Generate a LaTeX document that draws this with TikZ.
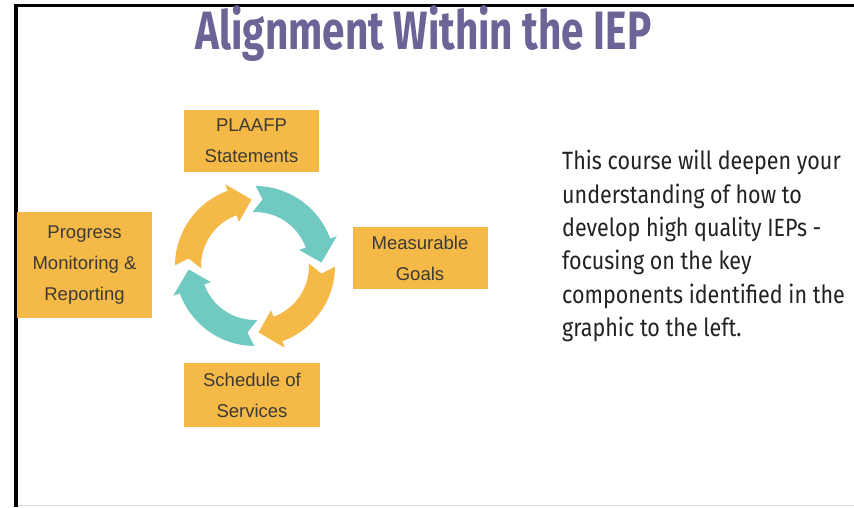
\documentclass[tikz,border=0pt]{standalone}
\usepackage{fontspec}
\setmainfont{Liberation Sans}
\newfontfamily\titlefont[FakeStretch=0.75]{Fira Sans}
\newfontfamily\notefont[FakeStretch=0.86]{Fira Sans}
\usepackage{xcolor}
\definecolor{boxorange}{HTML}{F4B947}
\definecolor{cycteal}{HTML}{70CAC2}
\definecolor{titlepurple}{HTML}{6C6496}
\definecolor{boxtext}{HTML}{3D3A35}
\definecolor{notetext}{HTML}{222226}

\tikzset{
  stage/.style={fill=boxorange,text=boxtext,font=\fontsize{18.5}{31}\selectfont,
    align=center,inner sep=0pt,minimum width=135pt,minimum height=62pt},
}

\begin{document}
\begin{tikzpicture}[x=1pt,y=1pt]
\useasboundingbox (0,0) rectangle (854,507);
\fill[white] (0,0) rectangle (854,507);
\draw[line width=3.5pt] (16,0)--(16,501.5)--(854,501.5);
\draw[black!15,line width=1pt] (18,2)--(854,2);

\node[font=\titlefont\bfseries\fontsize{54}{54}\selectfont,text=titlepurple,anchor=base]
  (title) at (423.5,457) {Alignment Within the IEP};

\node[stage] (plaafp) at (251.5,366) {PLAAFP\\Statements};
\node[stage] (goals) at (420,249) {Measurable\\Goals};
\node[stage,minimum width=136pt,minimum height=64pt] (sched) at (252,112) {Schedule of\\Services};
\node[stage,minimum height=106pt] (progress) at (84.5,242) {Progress\\Monitoring \&\\Reporting};

% four chevron arrows round the cycle
\foreach \tip/\col in {93/boxorange,3/cycteal,-87/boxorange,-177/cycteal}{
  \pgfmathsetmacro\tail{\tip+88.5}
  \pgfmathsetmacro\base{\tip+17}
  \pgfmathsetmacro\notch{\tip+80.5}
  \fill[\col,shift={(255,241)}] (\tail-2:80) arc[start angle=\tail-2,end angle=\base,radius=80]
    --(\base:87)--(\tip:66.5)--(\base:47)--(\base:54)
    arc[start angle=\base,end angle=\tail+1,radius=54]--(\notch:67)--cycle;
}

\node[font=\notefont\fontsize{25}{33.4}\selectfont,text=notetext,align=left,
  anchor=north west,inner sep=0pt] (note) at (562,357)
  {This course will deepen your\\understanding of how to\\develop high quality IEPs -\\focusing on the key\\components identified in the\\graphic to the left.};
\end{tikzpicture}
\end{document}
